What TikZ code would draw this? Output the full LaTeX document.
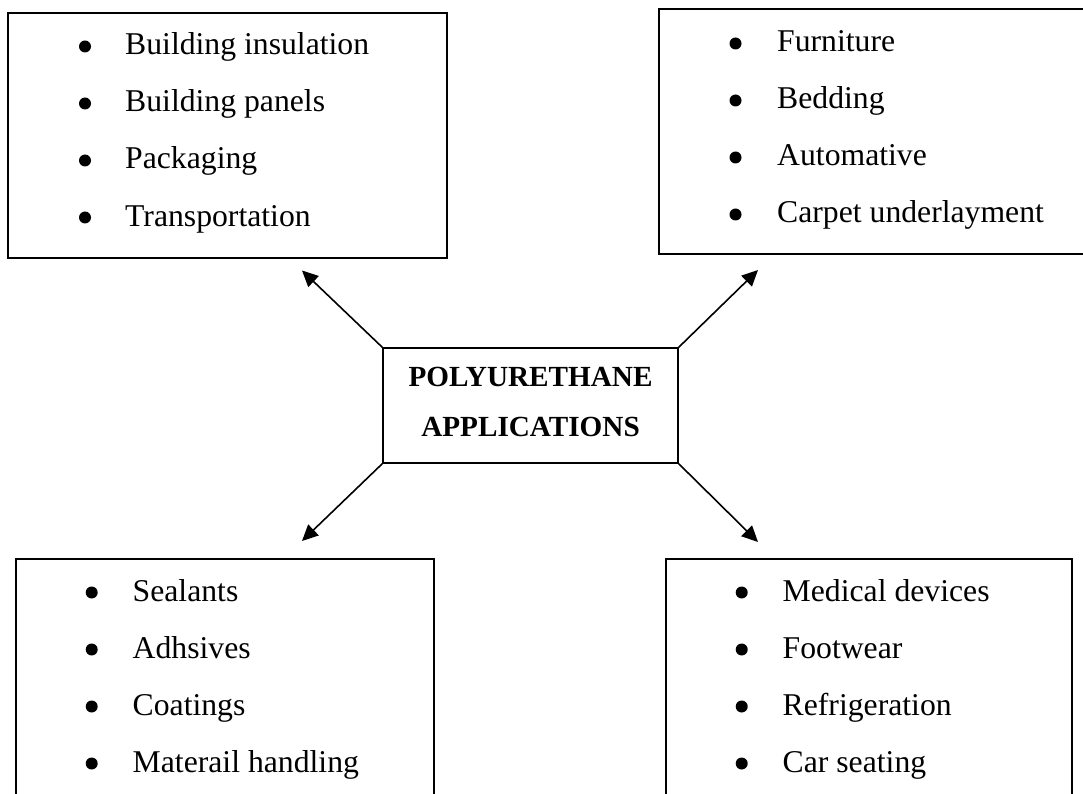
\documentclass[tikz,border=0pt]{standalone}
\usepackage{fontspec}
\setmainfont{Liberation Serif}
\usetikzlibrary{arrows.meta}
\begin{document}
\begin{tikzpicture}[x=1pt,y=-1pt,
  box/.style={draw=black,line width=1.5pt,inner sep=0pt},
  item/.style={anchor=base west,inner sep=0pt,font=\fontsize{31.7}{38}\selectfont},
  ttl/.style={anchor=base,inner sep=0pt,font=\fontsize{29.2}{35}\selectfont\bfseries},
  bul/.style={circle,fill=black,inner sep=0pt,minimum size=12pt},
  arr/.style={line width=1.6pt,-{Triangle[length=16pt,width=15pt]}}]
\clip (0,0) rectangle (1083,794);
\fill[white] (0,0) rectangle (1083,794);

% boxes
\node[box,minimum width=439pt,minimum height=245pt] (tl) at (227.5,135.5) {};
\node[box,minimum width=441pt,minimum height=245pt] (tr) at (879.5,131.5) {};
\node[box,minimum width=418pt,minimum height=261pt] (bl) at (225,689.5) {};
\node[box,minimum width=406pt,minimum height=261pt] (br) at (869,689.5) {};
\node[box,minimum width=295pt,minimum height=115pt] (c) at (530.5,405.5) {};

% centre title
\node[ttl] (c1) at (530.5,386.7) {POLYURETHANE};
\node[ttl] (c2) at (530.5,436.7) {APPLICATIONS};

% lists
\foreach \t [count=\i] in {Building insulation,Building panels,Packaging,Transportation}{
  \node[bul] (tlb\i) at (85,{55+57*(\i-1)-8.5}) {};
  \node[item] (tli\i) at (125,{55+57*(\i-1)}) {\t};
}
\foreach \t [count=\i] in {Furniture,Bedding,Automative,Carpet underlayment}{
  \node[bul] (trb\i) at (735.5,{52+57*(\i-1)-8.5}) {};
  \node[item] (tri\i) at (777,{52+57*(\i-1)}) {\t};
}
\foreach \t [count=\i] in {Sealants,Adhsives,Coatings,Materail handling}{
  \node[bul] (blb\i) at (91.7,{601+57*(\i-1)-8.5}) {};
  \node[item] (bli\i) at (132.5,{601+57*(\i-1)}) {\t};
}
\foreach \t [count=\i] in {Medical devices,Footwear,Refrigeration,Car seating}{
  \node[bul] (brb\i) at (741.7,{601+57*(\i-1)-8.5}) {};
  \node[item] (bri\i) at (782.5,{601+57*(\i-1)}) {\t};
}

% arrows
\coordinate (ptl) at (302,270.5);
\coordinate (ptr) at (758,270);
\coordinate (pbl) at (302,541);
\coordinate (pbr) at (758,542);
\draw[arr] (c.north west) -- (ptl);
\draw[arr] (c.north east) -- (ptr);
\draw[arr] (c.south west) -- (pbl);
\draw[arr] (c.south east) -- (pbr);
\end{tikzpicture}
\end{document}
